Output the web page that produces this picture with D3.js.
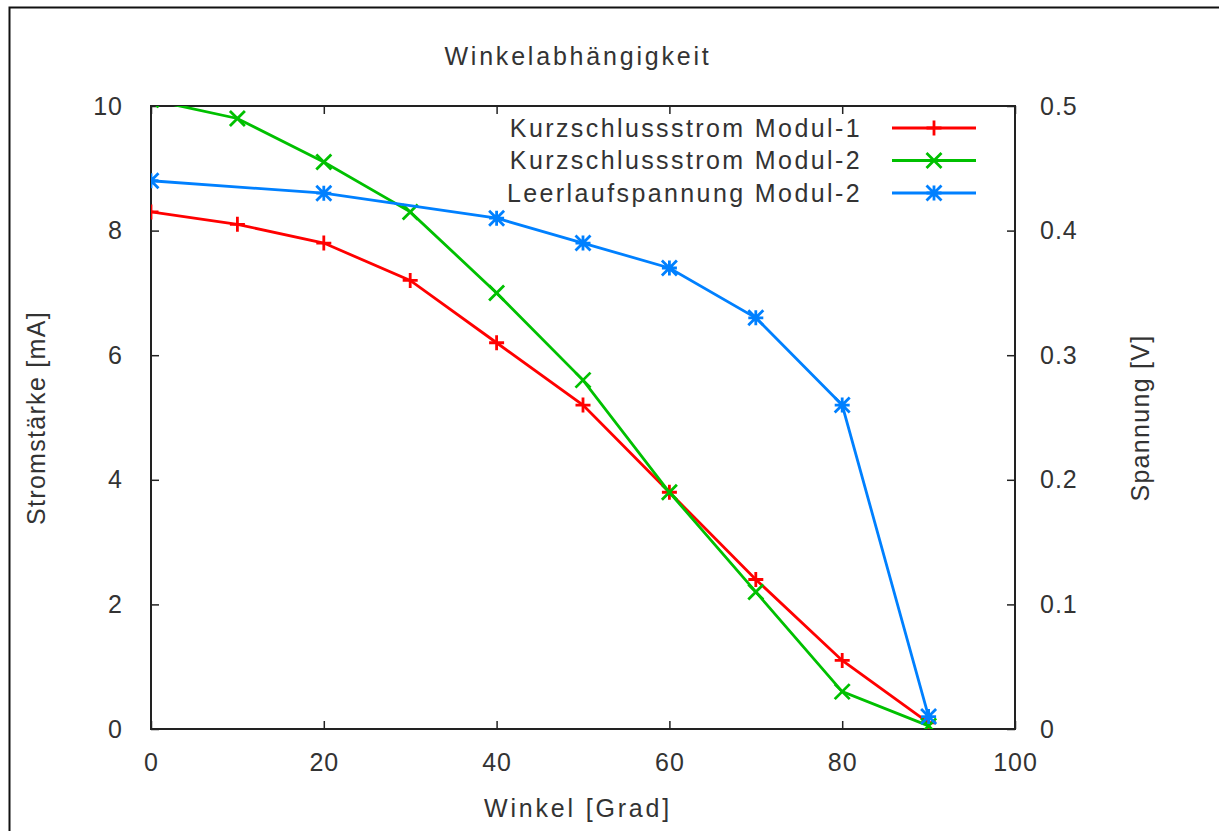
<!DOCTYPE html>
<html>
<head>
<meta charset="utf-8">
<script src="https://cdn.jsdelivr.net/npm/d3@7"></script>
<style>
  body { margin: 0; background: #fff; }
  text { font-family: "Liberation Sans", Arial, sans-serif; fill: #333; }
</style>
</head>
<body>
<svg id="chart" width="1219" height="831"></svg>
<script>
"use strict";

// angles in degrees
var winkel = [0, 10, 20, 30, 40, 50, 60, 70, 80, 90];
// short circuit current in mA
var stromModul1 = [8.3, 8.1, 7.8, 7.2, 6.2, 5.2, 3.8, 2.4, 1.1, 0.1];
var stromModul2 = [10.1, 9.8, 9.1, 8.3, 7.0, 5.6, 3.8, 2.2, 0.6, 0.05];
// open circuit voltage in V (right axis)
var winkelSpannung = [0, 20, 40, 50, 60, 70, 80, 90];
var spannungModul2 = [0.44, 0.43, 0.41, 0.39, 0.37, 0.33, 0.26, 0.01];

var xTicks = [0, 20, 40, 60, 80, 100];
var yTicks = [0, 2, 4, 6, 8, 10];
var y2Ticks = [0, 0.1, 0.2, 0.3, 0.4, 0.5];

var series = [
  { name: "Kurzschlussstrom Modul-1", color: "#ff0000", marker: "plus", axis: "y",
    xs: winkel, ys: stromModul1 },
  { name: "Kurzschlussstrom Modul-2", color: "#00c000", marker: "cross", axis: "y",
    xs: winkel, ys: stromModul2 },
  { name: "Leerlaufspannung Modul-2", color: "#0080ff", marker: "star", axis: "y2",
    xs: winkelSpannung, ys: spannungModul2 }
];

var svg = d3.select("#chart");
var plotLeft = 151, plotRight = 1015, plotTop = 106, plotBottom = 729;

var x = d3.scaleLinear().domain([0, 100]).range([plotLeft, plotRight]);
var y = d3.scaleLinear().domain([0, 10]).range([plotBottom, plotTop]);
var y2 = d3.scaleLinear().domain([0, 0.5]).range([plotBottom, plotTop]);

// outer frame (left and top edge only visible)
svg.append("path")
  .attr("d", "M9.5,831 L9.5,7.5 L1219,7.5")
  .attr("fill", "none").attr("stroke", "#111").attr("stroke-width", 2);

svg.append("defs").append("clipPath").attr("id", "plotclip")
  .append("rect").attr("x", plotLeft).attr("y", plotTop)
  .attr("width", plotRight - plotLeft).attr("height", plotBottom - plotTop);

function cleanAxis(g) {
  g.select(".domain").remove();
  g.selectAll(".tick line").attr("stroke", "#222").attr("stroke-width", 1.5);
  g.selectAll(".tick text").style("font-size", "25px").style("letter-spacing", "1px")
    .style("font-family", "'Liberation Sans', Arial, sans-serif")
    .attr("fill", "#333");
}

svg.append("g").attr("transform", "translate(0," + plotBottom + ")")
  .call(d3.axisBottom(x).tickValues(xTicks).tickSizeInner(-8).tickSizeOuter(0).tickPadding(24))
  .call(cleanAxis);
svg.append("g").attr("transform", "translate(0," + plotTop + ")")
  .call(d3.axisTop(x).tickValues(xTicks).tickSizeInner(-8).tickSizeOuter(0).tickFormat(""))
  .call(cleanAxis);
svg.append("g").attr("transform", "translate(" + plotLeft + ",0)")
  .call(d3.axisLeft(y).tickValues(yTicks).tickSizeInner(-8).tickSizeOuter(0).tickPadding(28))
  .call(cleanAxis);
svg.append("g").attr("transform", "translate(" + plotRight + ",0)")
  .call(d3.axisRight(y2).tickValues(y2Ticks).tickSizeInner(-8).tickSizeOuter(0).tickPadding(25)
    .tickFormat(function (d) { return d === 0 ? "0" : d3.format(".1f")(d); }))
  .call(cleanAxis);

// plot border
svg.append("rect")
  .attr("x", plotLeft).attr("y", plotTop)
  .attr("width", plotRight - plotLeft).attr("height", plotBottom - plotTop)
  .attr("fill", "none").attr("stroke", "#222").attr("stroke-width", 2);

function markerPath(type, s) {
  var plus = "M" + (-s) + ",0L" + s + ",0M0," + (-s) + "L0," + s;
  var cross = "M" + (-s) + "," + (-s) + "L" + s + "," + s + "M" + (-s) + "," + s + "L" + s + "," + (-s);
  if (type === "plus") return plus;
  if (type === "cross") return cross;
  return plus + cross;
}

var plot = svg.append("g").attr("clip-path", "url(#plotclip)");

series.forEach(function (s) {
  var ys = s.axis === "y" ? y : y2;
  var pts = s.xs.map(function (v, i) { return [v, s.ys[i]]; });
  plot.append("path")
    .datum(pts)
    .attr("fill", "none")
    .attr("stroke", s.color)
    .attr("stroke-width", 2.8)
    .attr("d", d3.line().x(function (d) { return x(d[0]); }).y(function (d) { return ys(d[1]); }));
  plot.selectAll(null)
    .data(pts)
    .enter()
    .append("path")
    .attr("transform", function (d) { return "translate(" + x(d[0]) + "," + ys(d[1]) + ")"; })
    .attr("d", markerPath(s.marker, 7.5))
    .attr("fill", "none")
    .attr("stroke", s.color)
    .attr("stroke-width", 2.8);
});

// legend
var legend = svg.append("g");
series.forEach(function (s, i) {
  var ly = 128 + i * 32.5;
  legend.append("text")
    .attr("x", 862).attr("y", ly).attr("dy", "0.35em")
    .attr("text-anchor", "end")
    .style("font-size", "25px").style("letter-spacing", "2.4px")
    .text(s.name);
  legend.append("line")
    .attr("x1", 892).attr("x2", 976).attr("y1", ly).attr("y2", ly)
    .attr("stroke", s.color).attr("stroke-width", 2.8);
  legend.append("path")
    .attr("transform", "translate(934," + ly + ")")
    .attr("d", markerPath(s.marker, 7.5))
    .attr("fill", "none").attr("stroke", s.color).attr("stroke-width", 2.8);
});

// titles
svg.append("text")
  .attr("x", 578).attr("y", 56).attr("dy", "0.35em").attr("text-anchor", "middle")
  .style("font-size", "25px").style("letter-spacing", "2.8px")
  .text("Winkelabhängigkeit");
svg.append("text")
  .attr("x", 578).attr("y", 808).attr("dy", "0.35em").attr("text-anchor", "middle")
  .style("font-size", "25px").style("letter-spacing", "2.8px")
  .text("Winkel [Grad]");
svg.append("text")
  .attr("transform", "translate(36,418) rotate(-90)")
  .attr("dy", "0.35em").attr("text-anchor", "middle")
  .style("font-size", "25px").style("letter-spacing", "1.3px")
  .text("Stromstärke [mA]");
svg.append("text")
  .attr("transform", "translate(1140,418) rotate(-90)")
  .attr("dy", "0.35em").attr("text-anchor", "middle")
  .style("font-size", "25px").style("letter-spacing", "1.3px")
  .text("Spannung [V]");
</script>
</body>
</html>
